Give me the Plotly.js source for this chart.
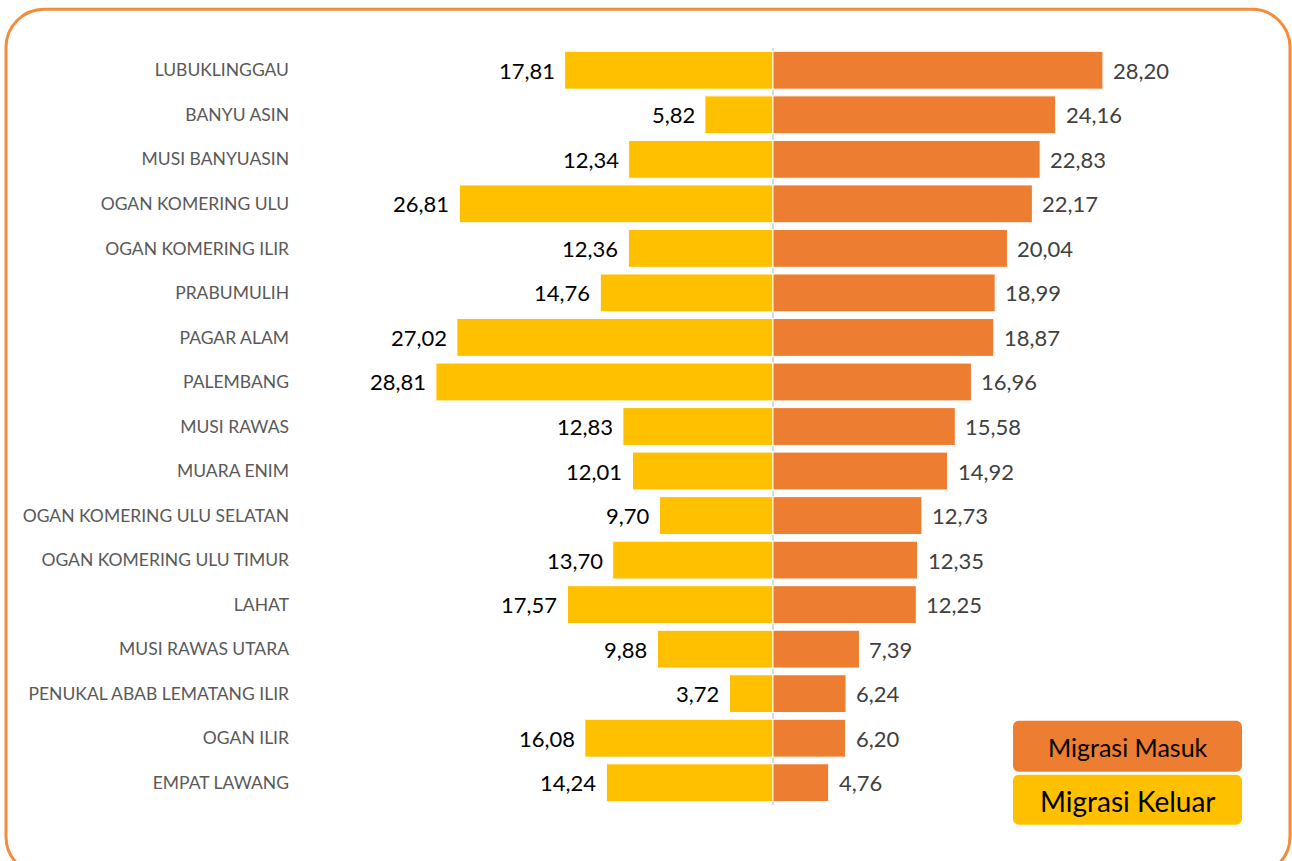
<!DOCTYPE html>
<html>
<head>
<meta charset="utf-8">
<script src="https://cdn.plot.ly/plotly-3.0.1.min.js"></script>
<style>html,body{margin:0;padding:0;background:#fff;}#chart{width:1292px;height:861px;}</style>
</head>
<body>
<div id="chart"></div>
<script>
const categories = ["LUBUKLINGGAU","BANYU ASIN","MUSI BANYUASIN","OGAN KOMERING ULU","OGAN KOMERING ILIR","PRABUMULIH","PAGAR ALAM","PALEMBANG","MUSI RAWAS","MUARA ENIM","OGAN KOMERING ULU SELATAN","OGAN KOMERING ULU TIMUR","LAHAT","MUSI RAWAS UTARA","PENUKAL ABAB LEMATANG ILIR","OGAN ILIR","EMPAT LAWANG"];
const migrasiKeluar = [17.81,5.82,12.34,26.81,12.36,14.76,27.02,28.81,12.83,12.01,9.70,13.70,17.57,9.88,3.72,16.08,14.24];
const migrasiMasuk = [28.20,24.16,22.83,22.17,20.04,18.99,18.87,16.96,15.58,14.92,12.73,12.35,12.25,7.39,6.24,6.20,4.76];
const seriesNames = ["Migrasi Masuk","Migrasi Keluar"];

const fmt = v => v.toFixed(2).replace('.', ',');

const W = 1292, H = 861, L = 300, R = 168, T = 47.7, B = 55.7;
const pw = W - L - R, ph = H - T - B;
const pxX = x => (x - L) / pw;
const pxY = y => (H - B - y) / ph;
function roundRect(x0, y0, x1, y1, r) {
  const k = 0.5523 * r;
  const P = (x, y) => pxX(x).toFixed(5) + ',' + pxY(y).toFixed(5);
  return 'M' + P(x0 + r, y0) + ' L' + P(x1 - r, y0) +
    ' C' + P(x1 - r + k, y0) + ' ' + P(x1, y0 + r - k) + ' ' + P(x1, y0 + r) +
    ' L' + P(x1, y1 - r) +
    ' C' + P(x1, y1 - r + k) + ' ' + P(x1 - r + k, y1) + ' ' + P(x1 - r, y1) +
    ' L' + P(x0 + r, y1) +
    ' C' + P(x0 + r - k, y1) + ' ' + P(x0, y1 - r + k) + ' ' + P(x0, y1 - r) +
    ' L' + P(x0, y0 + r) +
    ' C' + P(x0, y0 + r - k) + ' ' + P(x0 + r - k, y0) + ' ' + P(x0 + r, y0) + ' Z';
}

const ORANGE = '#ED7D31', YELLOW = '#FFC000';

const traces = [
  {
    type: 'bar', orientation: 'h', name: seriesNames[1],
    y: categories, x: migrasiKeluar.map(v => -v),
    marker: {color: YELLOW, line: {color: '#ffffff', width: 1}},
    width: 0.85, hoverinfo: 'skip'
  },
  {
    type: 'bar', orientation: 'h', name: seriesNames[0],
    y: categories, x: migrasiMasuk,
    marker: {color: ORANGE, line: {color: '#ffffff', width: 1}},
    width: 0.85, hoverinfo: 'skip'
  }
];

const annotations = [];
categories.forEach((c, i) => {
  annotations.push({x: -migrasiKeluar[i], y: c, xref: 'x', yref: 'y', text: fmt(migrasiKeluar[i]),
    showarrow: false, xanchor: 'right', yanchor: 'middle', xshift: -8,
    font: {family: 'Lato', size: 22, color: '#000000'}});
  annotations.push({x: migrasiMasuk[i], y: c, xref: 'x', yref: 'y', text: fmt(migrasiMasuk[i]),
    showarrow: false, xanchor: 'left', yanchor: 'middle', xshift: 8,
    font: {family: 'Lato', size: 22, color: '#404040'}});
});
annotations.push({x: pxX(1127.5), y: pxY(747), xref: 'paper', yref: 'paper', text: seriesNames[0],
  showarrow: false, xanchor: 'center', yanchor: 'middle', font: {family: 'Lato', size: 25, color: '#000000'}});
annotations.push({x: pxX(1127.5), y: pxY(801), xref: 'paper', yref: 'paper', text: seriesNames[1],
  showarrow: false, xanchor: 'center', yanchor: 'middle', font: {family: 'Lato', size: 28, color: '#000000'}});

const shapes = [
  {type: 'path', xref: 'paper', yref: 'paper', path: roundRect(6, 9, 1290, 875, 38),
    line: {color: '#F58B3C', width: 3}, fillcolor: 'rgba(0,0,0,0)', layer: 'above'},
  {type: 'path', xref: 'paper', yref: 'paper', path: roundRect(1013, 721, 1242, 772, 6),
    line: {width: 0}, fillcolor: ORANGE, layer: 'above'},
  {type: 'path', xref: 'paper', yref: 'paper', path: roundRect(1013, 775, 1242, 825, 6),
    line: {width: 0}, fillcolor: YELLOW, layer: 'above'}
];

const layout = {
  width: W, height: H,
  margin: {l: L, r: R, t: T, b: B, pad: 0},
  paper_bgcolor: '#ffffff', plot_bgcolor: '#ffffff',
  barmode: 'relative', bargap: 0.15,
  showlegend: false,
  xaxis: {range: [-(773 - L) / 11.70, (W - R - 773) / 11.70], showgrid: false, showticklabels: false,
    zeroline: true, zerolinecolor: '#d9d9d9', zerolinewidth: 2, fixedrange: true, ticks: ''},
  yaxis: {type: 'category', autorange: 'reversed', showgrid: false, zeroline: false, ticks: '',
    ticklabelstandoff: 10, automargin: false,
    tickfont: {family: 'Lato', size: 17.5, color: '#595959'}},
  annotations: annotations,
  shapes: shapes,
  font: {family: 'Lato'}
};

Plotly.newPlot('chart', traces, layout, {displayModeBar: false, staticPlot: true});
</script>
</body>
</html>
